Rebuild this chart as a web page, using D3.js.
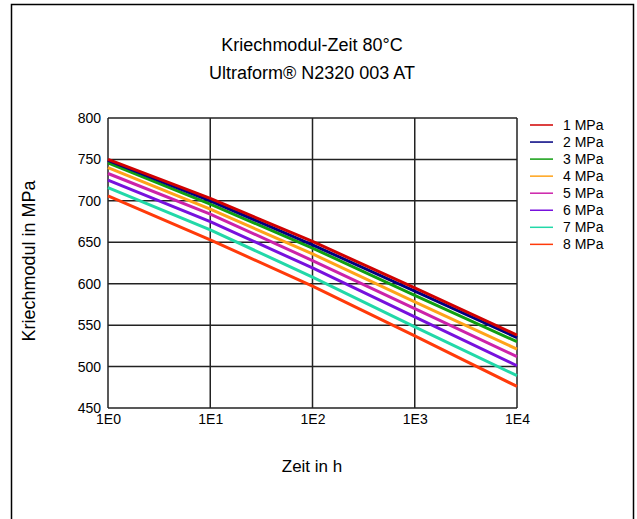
<!DOCTYPE html>
<html>
<head>
<meta charset="utf-8">
<script src="https://cdn.jsdelivr.net/npm/d3@7"></script>
<style>
  body { margin: 0; background: #fff; }
  svg { font-family: "Liberation Sans", Arial, sans-serif; }
</style>
</head>
<body>
<svg id="chart" width="637" height="519"></svg>
<script>
// time in hours (log axis)
const times = [1, 10, 100, 1000, 10000];
const xTickLabels = ["1E0", "1E1", "1E2", "1E3", "1E4"];
const yTicks = [450, 500, 550, 600, 650, 700, 750, 800];

const seriesNames = ["1 MPa", "2 MPa", "3 MPa", "4 MPa", "5 MPa", "6 MPa", "7 MPa", "8 MPa"];
const seriesColors = ["#d00000", "#000080", "#119e11", "#ffa31a", "#cc22aa", "#7711dd", "#22d8a8", "#ff3a0a"];

// creep modulus (MPa) read at each decade
const mod1 = [750, 703, 651, 595, 538];
const mod2 = [749, 700, 647, 591, 535];
const mod3 = [746, 696, 643, 586, 530];
const mod4 = [740, 690, 636, 578, 521];
const mod5 = [733, 684, 628, 570, 512];
const mod6 = [725, 675, 619, 560, 501];
const mod7 = [716, 665, 608, 548, 489];
const mod8 = [706, 653, 597, 537, 476];
const seriesValues = [mod1, mod2, mod3, mod4, mod5, mod6, mod7, mod8];

const svg = d3.select("#chart");

// outer frame
svg.append("rect")
  .attr("x", 11.5).attr("y", 4.5)
  .attr("width", 622).attr("height", 530)
  .attr("fill", "none").attr("stroke", "#000").attr("stroke-width", 1.5);

const x = d3.scaleLog().domain([1, 10000]).range([108, 517]);
const y = d3.scaleLinear().domain([450, 800]).range([408, 118]);

// titles
svg.append("text").attr("x", 312).attr("y", 51)
  .attr("text-anchor", "middle").attr("font-size", 18)
  .text("Kriechmodul-Zeit 80°C");
svg.append("text").attr("x", 312).attr("y", 79)
  .attr("text-anchor", "middle").attr("font-size", 18)
  .text("Ultraform® N2320 003 AT");

// grid
const grid = svg.append("g").attr("stroke", "#222").attr("stroke-width", 1.5);
grid.selectAll(".vg").data(times).join("line")
  .attr("x1", d => x(d)).attr("x2", d => x(d))
  .attr("y1", y(800)).attr("y2", y(450));
grid.selectAll(".hg").data(yTicks).join("line")
  .attr("x1", x(1)).attr("x2", x(10000))
  .attr("y1", d => y(d)).attr("y2", d => y(d));

// axes labels via d3 axes, domain/ticks hidden
const yAxis = svg.append("g")
  .attr("transform", `translate(${x(1)},0)`)
  .call(d3.axisLeft(y).tickValues(yTicks).tickSize(0).tickPadding(7).tickFormat(d3.format("d")));
yAxis.select(".domain").remove();
yAxis.selectAll("text").attr("font-size", 14).attr("fill", "#000")
  .attr("font-family", "Liberation Sans, Arial, sans-serif");

const xAxis = svg.append("g")
  .attr("transform", `translate(0,${y(450)})`)
  .call(d3.axisBottom(x).tickValues(times).tickSize(0).tickPadding(6)
    .tickFormat((d, i) => xTickLabels[i]));
xAxis.select(".domain").remove();
xAxis.selectAll("text").attr("font-size", 14).attr("fill", "#000")
  .attr("font-family", "Liberation Sans, Arial, sans-serif");

// axis titles
svg.append("text").attr("x", 312).attr("y", 472)
  .attr("text-anchor", "middle").attr("font-size", 17)
  .text("Zeit in h");
svg.append("text")
  .attr("transform", "translate(35,261) rotate(-90)")
  .attr("text-anchor", "middle").attr("font-size", 18)
  .text("Kriechmodul in MPa");

// lines, drawn last series first so 1 MPa sits on top
const line = d3.line()
  .x((d, i) => x(times[i]))
  .y(d => y(d));

const order = d3.range(seriesValues.length).reverse();
svg.append("g").selectAll("path").data(order).join("path")
  .attr("d", i => line(seriesValues[i]))
  .attr("fill", "none")
  .attr("stroke", i => seriesColors[i])
  .attr("stroke-width", 3);

// legend
const legend = svg.append("g");
seriesNames.forEach((name, i) => {
  const ly = 125 + i * 17.05;
  legend.append("line")
    .attr("x1", 530).attr("x2", 553).attr("y1", ly).attr("y2", ly)
    .attr("stroke", seriesColors[i]).attr("stroke-width", 1.5);
  legend.append("text")
    .attr("x", 563).attr("y", ly + 5)
    .attr("font-size", 14)
    .text(name);
});
</script>
</body>
</html>
